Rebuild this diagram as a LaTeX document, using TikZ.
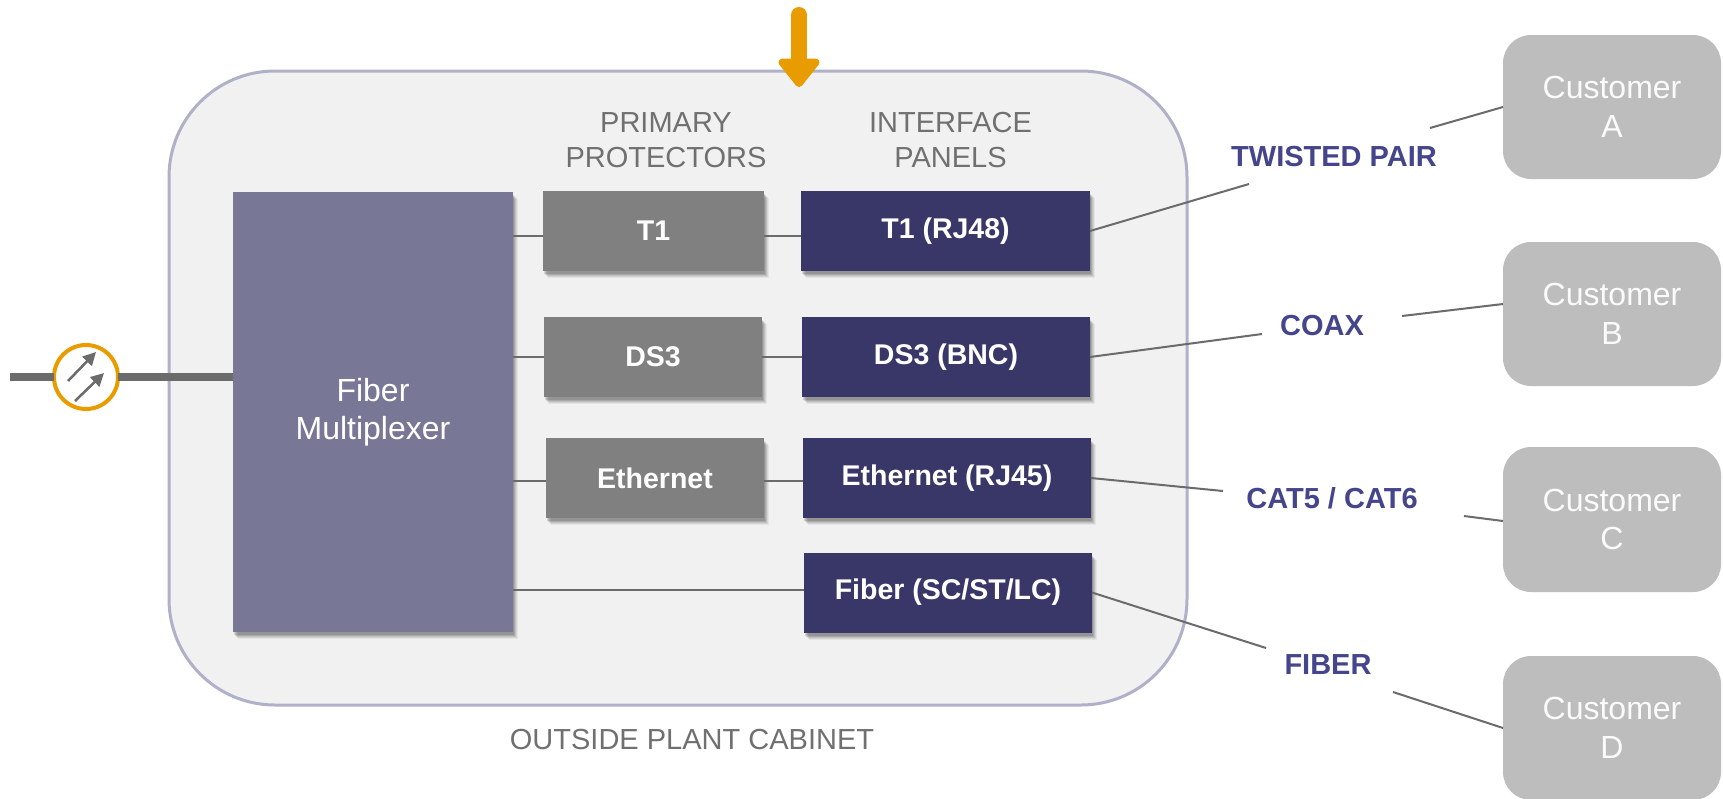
\documentclass[tikz,border=0pt]{standalone}
\usepackage{fontspec}
\setmainfont{Liberation Sans}
\usetikzlibrary{arrows.meta,shadows,calc}
\definecolor{muxc}{HTML}{787896}
\definecolor{protc}{HTML}{808080}
\definecolor{panelc}{HTML}{383768}
\definecolor{labelc}{HTML}{45458C}
\definecolor{custc}{HTML}{BDBDBD}
\definecolor{cabc}{HTML}{F1F1F1}
\definecolor{cabline}{HTML}{B0B0C8}
\definecolor{wirec}{HTML}{6B6B6B}
\definecolor{orangec}{HTML}{E89C00}
\definecolor{textc}{HTML}{707070}
\tikzset{
  softshadow/.style={
    general shadow={shadow xshift=4.5pt,shadow yshift=-7pt,fill=black,opacity=.05},
    general shadow={shadow xshift=3.5pt,shadow yshift=-6pt,fill=black,opacity=.07},
    general shadow={shadow xshift=2.5pt,shadow yshift=-5pt,fill=black,opacity=.09},
    general shadow={shadow xshift=1.5pt,shadow yshift=-4pt,fill=black,opacity=.11},
    general shadow={shadow xshift=1pt,shadow yshift=-3pt,fill=black,opacity=.13}},
  boxbase/.style={rectangle,inner sep=0pt,outer sep=0pt,minimum height=80pt,text=white,
    font=\fontsize{28.5}{34}\selectfont\bfseries,softshadow},
  protbox/.style={boxbase,fill=protc},
  panelbox/.style={boxbase,fill=panelc},
  muxbox/.style={boxbase,fill=muxc,minimum width=280pt,minimum height=440pt,align=center,
    font=\fontsize{32}{38.5}\selectfont},
  custbox/.style={rectangle,rounded corners=28pt,fill=custc,inner sep=0pt,outer sep=0pt,
    minimum width=218pt,text=white!94!custc,align=center,font=\fontsize{32}{38.5}\selectfont},
  cabbox/.style={rectangle,rounded corners=106pt,fill=cabc,draw=cabline,line width=3pt,
    minimum width=1018pt,minimum height=634pt,inner sep=0pt,outer sep=0pt},
  headtext/.style={text=textc,align=center,font=\fontsize{29}{35}\selectfont,inner sep=0pt},
  medialabel/.style={text=labelc,font=\fontsize{29}{34}\selectfont\bfseries,inner sep=0pt},
  wire/.style={draw=wirec,line width=2pt},
  mainline/.style={draw=wirec,line width=8pt},
  meterring/.style={circle,draw=orangec,fill=white,line width=4pt,minimum size=64pt,inner sep=0pt,outer sep=0pt},
  meterarrow/.style={draw=wirec,line width=2.5pt,-{Triangle[length=13pt,width=13pt]}},
  feedarrow/.style={draw=orangec,fill=orangec,line width=16pt,line cap=round,-{Triangle[length=31pt,width=47pt,round=false]}}
}
\begin{document}
\begin{tikzpicture}[x=1pt,y=-1pt]
\useasboundingbox (0,0) rectangle (1723,798);
\fill[white] (0,0) rectangle (1723,798);

\node[cabbox] (cabinet) at (678,388) {};

\node[headtext] (primary) at (666,140) {PRIMARY\\PROTECTORS};
\node[headtext] (interface) at (950.5,140) {INTERFACE\\PANELS};
\node[headtext] (cablabel) at (692,740) {OUTSIDE PLANT CABINET};

% feed arrow
\coordinate (feedtop) at (799,15);
\coordinate (feedtip) at (799,87);
\draw[feedarrow] (feedtop) -- (feedtip);

% boxes
\node[muxbox] (mux) at (373,412) {\fontsize{32}{38.5}\selectfont\mdseries Fiber\\\mdseries Multiplexer};

\node[protbox,minimum width=221pt] (t1p) at (653.5,231) {T1};
\node[panelbox,minimum width=289pt] (t1i) at (945.5,231) {T1 (RJ48)};
\node[protbox,minimum width=218pt] (dsp) at (653,357) {DS3};
\node[panelbox,minimum width=288pt] (dsi) at (946,357) {DS3 (BNC)};
\node[protbox,minimum width=218pt] (etp) at (655,478) {Ethernet};
\node[panelbox,minimum width=288pt] (eti) at (947,478) {Ethernet (RJ45)};
\node[panelbox,minimum width=288pt] (fbi) at (948,592.5) {Fiber (SC/ST/LC)};

\node[custbox,minimum height=144pt] (custa) at (1612,107) {Customer\\A};
\node[custbox,minimum height=144pt] (custb) at (1612,314) {Customer\\B};
\node[custbox,minimum height=145pt] (custc) at (1612,519.5) {Customer\\C};
\node[custbox,minimum height=144pt] (custd) at (1612,728) {Customer\\D};

% media labels
\node[medialabel] (twisted) at (1334,157) {TWISTED PAIR};
\node[medialabel] (coax) at (1322,326) {COAX};
\node[medialabel] (cat) at (1332,498) {CAT5 / CAT6};
\node[medialabel] (fiberl) at (1328,665) {FIBER};

% internal wires
\coordinate (ya) at ([yshift=-5pt]t1p.west);
\coordinate (yb) at (dsp.west);
\coordinate (yc) at ([yshift=-3pt]etp.west);
\coordinate (yd) at ([yshift=3pt]fbi.west);
\draw[wire] (mux.east |- ya) -- (ya);
\draw[wire] (t1p.east |- ya) -- (t1i.west |- ya);
\draw[wire] (mux.east |- yb) -- (yb);
\draw[wire] (dsp.east) -- (dsi.west);
\draw[wire] (mux.east |- yc) -- (yc);
\draw[wire] (etp.east |- yc) -- (eti.west |- yc);
\draw[wire] (mux.east |- yd) -- (yd);

% outside wires
\coordinate (ta1) at (1249,184);
\coordinate (ta2) at (1430,128);
\coordinate (tb1) at (1262,334);
\coordinate (tb2) at (1402,316);
\coordinate (tc1) at (1223,491);
\coordinate (tc2) at (1464,516);
\coordinate (td1) at (1266,648);
\coordinate (td2) at (1393,692);
\coordinate (ea) at (custa.west);
\coordinate (eb) at ([yshift=10pt]custb.west);
\coordinate (ec) at ([yshift=-1.5pt]custc.west);
\coordinate (ed) at (custd.west);
\draw[wire] (t1i.east) -- (ta1);
\draw[wire] (ta2) -- (ea);
\draw[wire] (dsi.east) -- (tb1);
\draw[wire] (tb2) -- (eb);
\draw[wire] (eti.east) -- (tc1);
\draw[wire] (tc2) -- (ec);
\draw[wire] (fbi.east) -- (td1);
\draw[wire] (td2) -- (ed);

% main line and meter
\coordinate (linestart) at (10,377);
\node[meterring] (meter) at (86,377) {};
\draw[mainline] (linestart) -- (meter.west);
\draw[mainline] (meter.east) -- (meter.east -| mux.west);
\coordinate (m1s) at (68,381);
\coordinate (m1e) at (96,352);
\coordinate (m2s) at (75,401);
\coordinate (m2e) at (104,373);
\draw[meterarrow] (m1s) -- (m1e);
\draw[meterarrow] (m2s) -- (m2e);
\end{tikzpicture}
\end{document}
